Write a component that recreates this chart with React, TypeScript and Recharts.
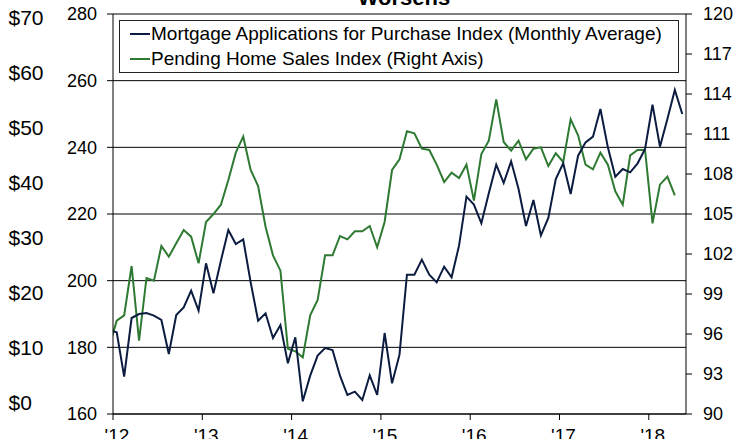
import React from "react";
import { LineChart, Line, XAxis, YAxis, CartesianGrid, Legend } from "recharts";

// Monthly values, first entry = Dec 2011 (partly off-chart), then Jan 2012 .. May 2018
const mortgageIndex: number[] = [
  185.1,
  184.5, 171.2, 188.8, 190.0, 190.3, 189.5, 188.2, 178.0, 189.7, 192.0, 197.0, 191.0,
  205.2, 196.2, 206.0, 215.2, 211.0, 212.4, 199.5, 188.0, 190.2, 182.8, 186.7, 175.2,
  183.0, 163.8, 171.5, 177.5, 179.8, 179.2, 171.5, 165.7, 166.7, 164.2, 171.6, 165.7,
  184.3, 169.2, 177.8, 201.8, 201.8, 206.3, 201.8, 199.5, 204.2, 201.0, 210.5, 225.2,
  222.8, 217.2, 226.2, 234.8, 229.3, 235.8, 227.5, 216.4, 224.2, 213.6, 218.8, 230.5,
  235.2, 226.0, 237.5, 241.5, 243.2, 251.5, 240.0, 231.2, 233.5, 232.5, 235.2, 239.5,
  252.8, 240.2, 248.5, 257.2, 250.0,
];

const pendingHomeSales: (number | null)[] = [
  95.1,
  97.0, 97.4, 101.1, 95.5, 100.2, 100.0, 102.6, 101.8, 102.8, 103.8, 103.3, 101.3,
  104.4, 105.0, 105.7, 107.55, 109.6, 110.8, 108.3, 107.1, 104.05, 101.9, 100.75, 94.9,
  94.7, 94.25, 97.4, 98.55, 101.9, 101.9, 103.35, 103.1, 103.7, 103.7, 104.1, 102.5,
  104.4, 108.3, 109.1, 111.2, 111.05, 109.9, 109.8, 108.7, 107.4, 108.1, 107.7, 108.7,
  106.0, 109.5, 110.5, 113.6, 110.4, 109.75, 110.5, 109.1, 109.9, 110.0, 108.6, 109.55,
  108.9, 112.1, 110.9, 108.7, 108.35, 109.6, 108.7, 106.7, 105.7, 109.4, 109.8, 109.8,
  104.3, 107.2, 107.8, 106.4, null,
];

const yearLabels: string[] = ["'12", "'13", "'14", "'15", "'16", "'17", "'18"];
const mbaTicks: number[] = [160, 180, 200, 220, 240, 260, 280];
const dollarTicks: number[] = [0, 10, 20, 30, 40, 50, 60, 70];
const phsTicks: number[] = [90, 93, 96, 99, 102, 105, 108, 111, 114, 117, 120];

const MORTGAGE_NAME = "Mortgage Applications for Purchase Index (Monthly Average)";
const PENDING_NAME = "Pending Home Sales Index (Right Axis)";

// month index: Dec 2011 = -1, each point plotted at the middle of its month
const data = mortgageIndex.map((v, i) => ({
  t: i - 0.5,
  mortgage: v,
  pending: pendingHomeSales[i],
}));
const yearTickPositions = yearLabels.map((_, i) => i * 12);

const FONT = "'Liberation Sans', Arial, Helvetica, sans-serif";
const BLUE = "#0b1c40";
const GREEN = "#2e7a32";

const XTick = (props: any) => {
  const { x, y, payload } = props;
  const idx = yearTickPositions.indexOf(payload.value);
  return (
    <text x={x + 4} y={y} dy="0.71em" textAnchor="middle" fontSize={19} fill="#000" fontFamily={FONT}>
      {idx >= 0 ? yearLabels[idx] : ""}
    </text>
  );
};

const DollarTick = (props: any) => {
  const { y, payload } = props;
  return (
    <text x={8.5} y={y} dy="0.355em" textAnchor="start" fontSize={21} fill="#000" fontFamily={FONT}>
      {"$" + payload.value}
    </text>
  );
};

const LegendBox = (props: any) => {
  const payload: any[] = props.payload || [];
  const order = [MORTGAGE_NAME, PENDING_NAME];
  const items = order
    .map((n) => payload.find((p) => p.value === n))
    .filter(Boolean);
  return (
    <div
      style={{
        boxSizing: "border-box",
        width: 560,
        height: 53,
        border: "1px solid #222",
        background: "#fff",
        fontFamily: FONT,
        fontSize: 19,
        color: "#000",
      }}
    >
      {items.map((e: any) => (
        <div
          key={e.value}
          style={{ height: 25.5, display: "flex", alignItems: "center", paddingLeft: 10, whiteSpace: "nowrap" }}
        >
          <svg width={21} height={4} style={{ display: "block" }}>
            <line x1={0} y1={2} x2={20} y2={2} stroke={e.color} strokeWidth={2} />
          </svg>
          <span>{e.value}</span>
        </div>
      ))}
    </div>
  );
};

export default function App() {
  return (
    <div style={{ position: "absolute", left: 0, top: 0, width: 741, height: 439, background: "#fff" }}>
      <LineChart
        width={741}
        height={439}
        data={data}
        margin={{ top: 14, right: 0, bottom: 0, left: 0 }}
        style={{ fontFamily: FONT }}
      >
        <CartesianGrid yAxisId="mba" horizontal vertical={false} stroke="#000" strokeWidth={1} />
        <XAxis
          dataKey="t"
          type="number"
          domain={[0, 77]}
          allowDataOverflow
          ticks={yearTickPositions}
          interval={0}
          height={25}
          tickSize={6}
          tickMargin={9}
          tick={<XTick />}
          axisLine={{ stroke: "#000" }}
          tickLine={{ stroke: "#000" }}
        />
        <YAxis
          yAxisId="mba"
          orientation="left"
          domain={[160, 280]}
          ticks={mbaTicks}
          interval={0}
          width={60}
          tickSize={6}
          tickMargin={10}
          axisLine={{ stroke: "#000" }}
          tickLine={{ stroke: "#000" }}
          tick={{ fill: "#000", fontSize: 18, fontFamily: FONT }}
        />
        <YAxis
          yAxisId="usd"
          orientation="left"
          domain={[-2.05, 70.68]}
          allowDataOverflow
          ticks={dollarTicks}
          interval={0}
          width={53}
          axisLine={false}
          tickLine={false}
          tick={<DollarTick />}
        />
        <YAxis
          yAxisId="phs"
          orientation="right"
          domain={[90, 120]}
          ticks={phsTicks}
          interval={0}
          width={55}
          tickSize={6}
          tickMargin={11}
          axisLine={{ stroke: "#000" }}
          tickLine={{ stroke: "#000" }}
          tick={{ fill: "#000", fontSize: 18, fontFamily: FONT }}
        />
        <Legend
          layout="vertical"
          align="center"
          verticalAlign="middle"
          wrapperStyle={{ left: 119, top: 20, width: 560, height: 53 }}
          content={<LegendBox />}
        />
        <Line
          yAxisId="phs"
          type="linear"
          dataKey="pending"
          name={PENDING_NAME}
          stroke={GREEN}
          strokeWidth={2}
          dot={false}
          activeDot={false}
          isAnimationActive={false}
          connectNulls={false}
        />
        <Line
          yAxisId="mba"
          type="linear"
          dataKey="mortgage"
          name={MORTGAGE_NAME}
          stroke={BLUE}
          strokeWidth={2}
          dot={false}
          activeDot={false}
          isAnimationActive={false}
        />
      </LineChart>
      <svg
        width={741}
        height={20}
        style={{ position: "absolute", left: 0, top: 0, pointerEvents: "none" }}
      >
        <text x={404} y={4.5} textAnchor="middle" fontSize={22} fontWeight="bold" fontFamily={FONT} fill="#000">
          Worsens
        </text>
      </svg>
    </div>
  );
}
